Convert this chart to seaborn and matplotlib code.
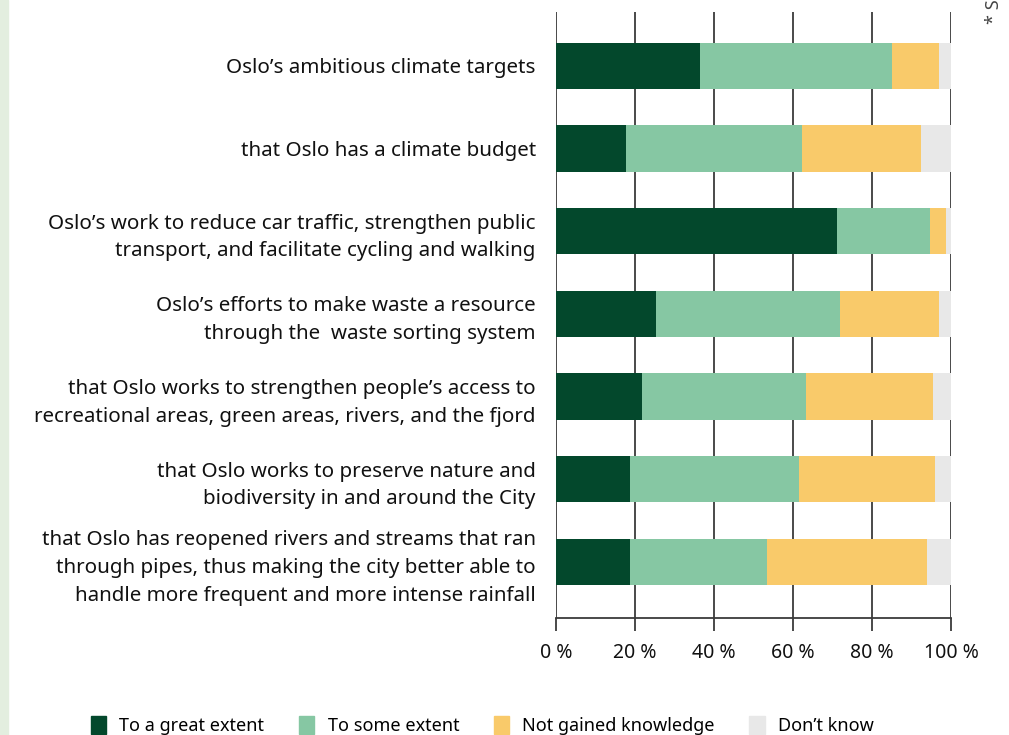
import matplotlib
matplotlib.use("Agg")
import matplotlib.pyplot as plt
import matplotlib.patches as mpatches
import seaborn as sns
import numpy as np
import pandas as pd

categories = [
    "Oslo’s ambitious climate targets",
    "that Oslo has a climate budget",
    "Oslo’s work to reduce car traffic, strengthen public\ntransport, and facilitate cycling and walking",
    "Oslo’s efforts to make waste a resource\nthrough the  waste sorting system",
    "that Oslo works to strengthen people’s access to\nrecreational areas, green areas, rivers, and the fjord",
    "that Oslo works to preserve nature and\nbiodiversity in and around the City",
    "that Oslo has reopened rivers and streams that ran\nthrough pipes, thus making the city better able to\nhandle more frequent and more intense rainfall",
]
series_names = ["To a great extent", "To some extent", "Not gained knowledge", "Don’t know"]
great = [36.5, 17.7, 71.1, 25.3, 21.8, 18.7, 18.7]
some = [48.6, 44.6, 23.6, 46.6, 41.5, 42.8, 34.7]
not_gained = [11.9, 30.1, 4.0, 25.1, 32.1, 34.4, 40.5]
dont_know = [3.0, 7.6, 1.3, 3.0, 4.6, 4.1, 6.1]
tick_values = [0, 20, 40, 60, 80, 100]
tick_labels = ["0 %", "20 %", "40 %", "60 %", "80 %", "100 %"]
colors = ["#03482c", "#86c7a3", "#f9ca6a", "#e8e8e8"]

plt.rcParams["font.family"] = ["Noto Sans", "DejaVu Sans"]

df = pd.DataFrame({"cat": categories, "s0": great, "s1": some, "s2": not_gained, "s3": dont_know})
vals = df[["s0", "s1", "s2", "s3"]].to_numpy()
cum = np.cumsum(vals, axis=1)

fig = plt.figure(figsize=(10.09, 7.35), dpi=100)
fig.patches.append(mpatches.Rectangle((0, 0), 8 / 1009, 1, transform=fig.transFigure,
                                      color="#e3eedf", zorder=0))
ax = fig.add_axes([556 / 1009, 1 - 618 / 735, (951 - 556) / 1009, (618 - 12) / 735])

# vertical grid lines
for t in tick_values:
    ax.axvline(t, color="#3a3a3a", lw=1.3, zorder=0)

for i in range(3, -1, -1):
    plot_df = pd.DataFrame({"cat": categories, "v": cum[:, i]})
    sns.barplot(data=plot_df, y="cat", x="v", orient="h", color=colors[i],
                width=0.56, saturation=1, ax=ax, zorder=2, linewidth=0)

ax.set_xlim(0, 100)
ax.set_ylim(6.68, -0.65)
ax.set_xticks(tick_values)
ax.set_xticklabels(tick_labels, fontsize=14, color="#111111")
ax.tick_params(axis="x", length=9, width=1.3, color="#3a3a3a", pad=9)
ax.tick_params(axis="y", length=0, pad=14.5, labelsize=14.8)
for lab in ax.get_yticklabels():
    lab.set_linespacing(1.52)
    lab.set_color("#111111")
ax.set_xlabel("")
ax.set_ylabel("")
for s in ["top", "right", "left"]:
    ax.spines[s].set_visible(False)
ax.spines["bottom"].set_color("#3a3a3a")
ax.spines["bottom"].set_linewidth(1.3)
ax.spines["bottom"].set_zorder(3)

handles = [mpatches.Patch(color=c, label=n) for c, n in zip(colors, series_names)]
fig.legend(handles=handles, loc="lower center", bbox_to_anchor=(0.478, -0.022), ncol=4,
           frameon=False, fontsize=13, handlelength=0.85, handleheight=1.2,
           handletextpad=0.75, columnspacing=1.9)

fig.text(0.985, 0.967, "* Source", rotation=90, ha="center", va="bottom",
         fontsize=13, color="#444444")

fig.savefig("out.png", dpi=100)
